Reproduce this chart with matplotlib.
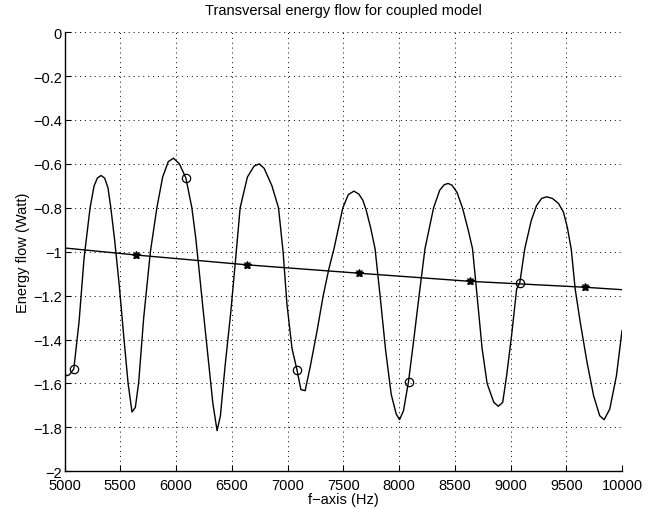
import numpy as np
import matplotlib.pyplot as plt

plt.rcParams['font.family'] = ['Liberation Sans', 'DejaVu Sans']

# oscillating energy flow curve
f_curve = [5000, 5020, 5045, 5083, 5130, 5175, 5229, 5265, 5295, 5328, 5360, 5390,
           5415, 5450, 5490, 5530, 5570, 5605, 5635, 5665, 5710, 5770, 5828, 5880,
           5930, 5977, 6030, 6088, 6142, 6175, 6200, 6240, 6285, 6330, 6368, 6398,
           6440, 6490, 6535, 6575, 6640, 6700, 6746, 6790, 6860, 6919, 6960, 6995,
           7040, 7085, 7120, 7158, 7205, 7265, 7320, 7370, 7417, 7496, 7545, 7596,
           7640, 7675, 7705, 7745, 7785, 7830, 7880, 7930, 7975, 8005, 8040, 8085,
           8130, 8180, 8233, 8310, 8365, 8405, 8440, 8475, 8520, 8569, 8620, 8659,
           8700, 8745, 8790, 8850, 8890, 8930, 8965, 9010, 9055, 9083, 9128, 9185,
           9233, 9280, 9323, 9375, 9430, 9475, 9510, 9545, 9580, 9625, 9685, 9745,
           9800, 9840, 9890, 9950, 10000]
e_curve = [-1.557, -1.565, -1.560, -1.534, -1.32, -1.03, -0.80, -0.70, -0.664, -0.653,
           -0.665, -0.71, -0.80, -0.95, -1.15, -1.38, -1.60, -1.73, -1.709, -1.595,
           -1.30, -1.00, -0.80, -0.66, -0.59, -0.574, -0.60, -0.664, -0.80, -0.93,
           -1.05, -1.25, -1.47, -1.69, -1.815, -1.747, -1.52, -1.28, -1.03, -0.80,
           -0.66, -0.61, -0.60, -0.62, -0.70, -0.80, -1.00, -1.24, -1.44, -1.539,
           -1.628, -1.633, -1.52, -1.36, -1.20, -1.08, -0.986, -0.80, -0.74, -0.724,
           -0.738, -0.765, -0.81, -0.89, -0.986, -1.20, -1.45, -1.65, -1.74, -1.765,
           -1.724, -1.592, -1.41, -1.20, -0.986, -0.80, -0.72, -0.695, -0.689, -0.697,
           -0.73, -0.80, -0.90, -0.986, -1.20, -1.44, -1.60, -1.686, -1.704, -1.686,
           -1.565, -1.38, -1.17, -1.142, -0.986, -0.86, -0.79, -0.757, -0.75, -0.757,
           -0.78, -0.82, -0.89, -0.99, -1.17, -1.32, -1.50, -1.656, -1.747, -1.765,
           -1.717, -1.565, -1.36]

# circle markers on the curve
f_circ = [5083, 6088, 7085, 8085, 9083]
e_circ = [-1.534, -0.664, -1.539, -1.592, -1.142]

# slowly decreasing mean line and its star markers
f_line = [5000, 5640, 6640, 7640, 8640, 9670, 10000]
e_line = [-0.983, -1.015, -1.060, -1.098, -1.135, -1.162, -1.173]
f_star = [5640, 6640, 7640, 8640, 9670]
e_star = [-1.015, -1.060, -1.098, -1.135, -1.162]

fig = plt.figure(figsize=(6.52, 5.10), dpi=100)
ax = fig.add_axes([0.099, 0.074, 0.855, 0.861])

ax.plot(f_curve, e_curve, color='black', lw=1.0)
ax.plot(f_circ, e_circ, 'o', mfc='none', mec='black', ms=6, mew=0.9)
ax.plot(f_line, e_line, color='black', lw=1.0)
ax.plot(f_star, e_star, '*', color='black', ms=6)
ax.plot(f_star, e_star, 'x', color='black', ms=5, mew=1.0)

ax.set_xlim(5000, 10000)
ax.set_ylim(-2, 0)
ax.set_xticks(np.arange(5000, 10001, 500))
ax.set_yticks(np.arange(-2, 0.01, 0.2))
ax.set_yticklabels(['\u22122', '\u22121.8', '\u22121.6', '\u22121.4', '\u22121.2', '\u22121',
                    '\u22120.8', '\u22120.6', '\u22120.4', '\u22120.2', '0'])
ax.tick_params(direction='in', length=4, width=0.8, labelsize=10.5)
ax.tick_params(axis='x', pad=5)
ax.tick_params(axis='y', pad=2)
ax.grid(True, color='black', linestyle=(0, (1, 4)), linewidth=0.7)
ax.spines['top'].set_visible(False)
ax.spines['right'].set_visible(False)
ax.spines['left'].set_linewidth(1.0)
ax.spines['bottom'].set_linewidth(1.0)

ax.set_title('Transversal energy flow for coupled model', fontsize=10.5, pad=13)
ax.set_xlabel('f\u2212axis (Hz)', fontsize=10.5, labelpad=0)
ax.set_ylabel('Energy flow (Watt)', fontsize=10.5, labelpad=2)

fig.savefig('out.png', dpi=100)
